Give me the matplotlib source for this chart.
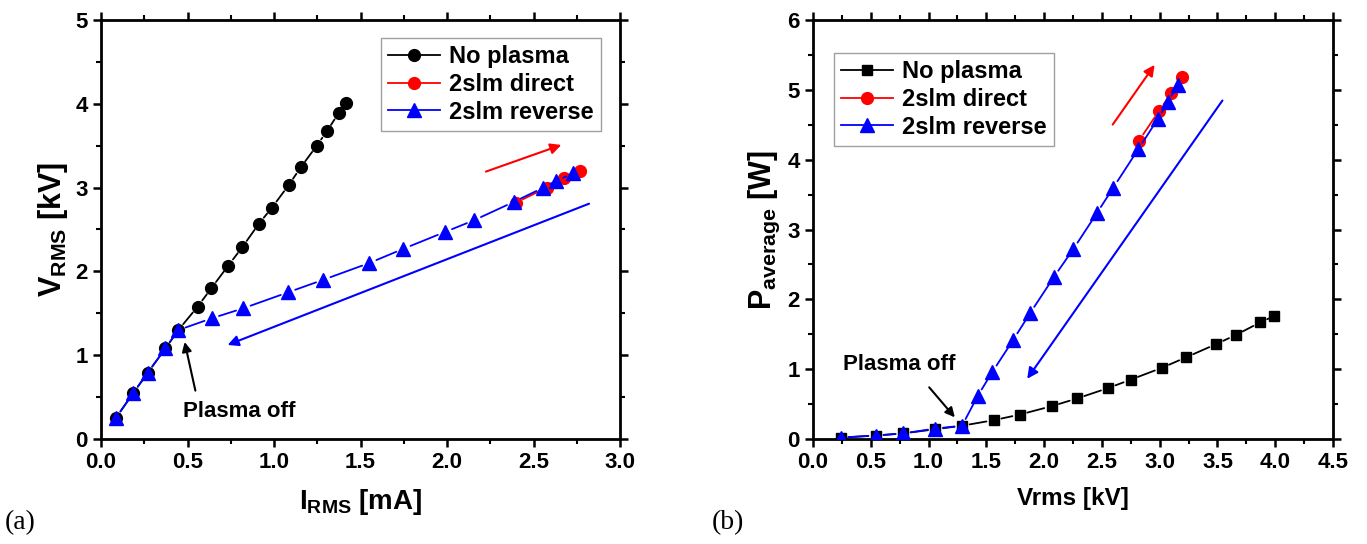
import matplotlib
matplotlib.use("Agg")
import matplotlib.pyplot as plt
from matplotlib.ticker import MultipleLocator
from matplotlib.lines import Line2D

plt.rcParams['font.family'] = ['Liberation Sans', 'DejaVu Sans']
plt.rcParams['font.weight'] = 'bold'
plt.rcParams['mathtext.fontset'] = 'custom'
plt.rcParams['mathtext.rm'] = 'Liberation Sans:bold'
plt.rcParams['mathtext.it'] = 'Liberation Sans:bold'
plt.rcParams['mathtext.bf'] = 'Liberation Sans:bold'

# (a) V_RMS vs I_RMS
i_noplasma = [0.087, 0.187, 0.27, 0.372, 0.447, 0.559, 0.638, 0.736, 0.817, 0.913,
              0.988, 1.085, 1.154, 1.247, 1.305, 1.374, 1.416]
v_noplasma = [0.254, 0.55, 0.79, 1.08, 1.30, 1.58, 1.80, 2.07, 2.29, 2.57,
              2.76, 3.03, 3.24, 3.50, 3.67, 3.89, 4.01]

i_reverse = [0.087, 0.187, 0.27, 0.372, 0.447, 0.64, 0.823, 1.081, 1.285, 1.551,
             1.748, 1.988, 2.156, 2.387, 2.557, 2.63, 2.73]
v_reverse = [0.254, 0.55, 0.79, 1.08, 1.30, 1.44, 1.56, 1.75, 1.90, 2.10,
             2.27, 2.47, 2.61, 2.83, 3.00, 3.08, 3.17]

i_direct = [2.399, 2.576, 2.676, 2.769]
v_direct = [2.82, 3.00, 3.12, 3.20]

# (b) P_average vs Vrms
vb_noplasma = [0.24, 0.545, 0.78, 1.06, 1.29, 1.566, 1.79, 2.065, 2.285, 2.555,
               2.75, 3.02, 3.23, 3.49, 3.66, 3.87, 3.99]
p_noplasma = [0.02, 0.05, 0.08, 0.14, 0.19, 0.27, 0.35, 0.47, 0.58, 0.73,
              0.85, 1.02, 1.17, 1.36, 1.49, 1.67, 1.76]

vb_reverse = [0.24, 0.545, 0.78, 1.06, 1.29, 1.425, 1.552, 1.733, 1.878, 2.085,
              2.253, 2.455, 2.599, 2.815, 2.983, 3.07, 3.156]
p_reverse = [0.02, 0.05, 0.08, 0.15, 0.19, 0.616, 0.96, 1.42, 1.80, 2.32,
             2.72, 3.23, 3.60, 4.15, 4.58, 4.82, 5.07]

vb_direct = [2.82, 2.995, 3.10, 3.19]
p_direct = [4.27, 4.70, 4.95, 5.19]

labels = ["No plasma", "2slm direct", "2slm reverse"]
colors = ['black', 'red', 'blue']

fig = plt.figure(figsize=(13.67, 5.44), dpi=100)
ax1 = fig.add_axes([101/1367, 1-439/544, 519/1367, 419/544])
ax2 = fig.add_axes([813/1367, 1-439/544, 520/1367, 419/544])

lw = 1.3


def origin_line(ax, x, y, color, marker, ms, z):
    # markers, then line pieces that stop short of each marker (Origin style gaps)
    ax.plot(x, y, linestyle='none', marker=marker, ms=ms, color=color, zorder=z)
    for k in range(len(x) - 1):
        ax.annotate('', xy=(x[k+1], y[k+1]), xytext=(x[k], y[k]),
                    arrowprops=dict(arrowstyle='-', color=color, lw=lw,
                                    shrinkA=5.5, shrinkB=5.5),
                    zorder=z, annotation_clip=False)


origin_line(ax1, i_noplasma, v_noplasma, 'black', 'o', 8.5, 3)
origin_line(ax1, i_direct, v_direct, 'red', 'o', 8.5, 4)
origin_line(ax1, i_reverse, v_reverse, 'blue', '^', 9.5, 5)

origin_line(ax2, vb_noplasma, p_noplasma, 'black', 's', 7.5, 3)
origin_line(ax2, vb_direct, p_direct, 'red', 'o', 8.5, 4)
origin_line(ax2, vb_reverse, p_reverse, 'blue', '^', 9.5, 5)

# direction arrows
arr = dict(arrowstyle='-|>', lw=1.5, mutation_scale=16)
ax1.annotate('', xy=(2.676, 3.52), xytext=(2.21, 3.18), arrowprops=dict(color='red', **arr))
ax1.annotate('', xy=(0.717, 1.11), xytext=(2.836, 2.82), arrowprops=dict(color='blue', **arr))
ax1.annotate('', xy=(0.48, 1.19), xytext=(0.549, 0.545),
             arrowprops=dict(color='black', arrowstyle='-|>', lw=1.5, mutation_scale=14))
ax1.text(0.80, 0.33, 'Plasma off', ha='center', va='center', fontsize=16, fontweight='bold')

ax2.annotate('', xy=(2.97, 5.39), xytext=(2.58, 4.47), arrowprops=dict(color='red', **arr))
ax2.annotate('', xy=(1.84, 0.83), xytext=(3.557, 4.88), arrowprops=dict(color='blue', **arr))
ax2.annotate('', xy=(1.243, 0.28), xytext=(0.99, 0.77),
             arrowprops=dict(color='black', arrowstyle='-|>', lw=1.5, mutation_scale=14))
ax2.text(0.747, 1.07, 'Plasma off', ha='center', va='center', fontsize=16, fontweight='bold')

ax1.set_xlim(0, 3.0)
ax1.set_ylim(0, 5)
ax1.xaxis.set_major_locator(MultipleLocator(0.5))
ax1.xaxis.set_minor_locator(MultipleLocator(0.25))
ax1.yaxis.set_major_locator(MultipleLocator(1))
ax1.yaxis.set_minor_locator(MultipleLocator(0.5))
ax1.xaxis.set_major_formatter(plt.FormatStrFormatter('%.1f'))
ax1.set_xlabel(r'$\mathregular{I_{RMS}}$ [mA]', fontsize=20, fontweight='bold', labelpad=10)
ax1.set_ylabel(r'$\mathregular{V_{RMS}}$ [kV]', fontsize=22, fontweight='bold', labelpad=4)

ax2.set_xlim(0, 4.5)
ax2.set_ylim(0, 6)
ax2.xaxis.set_major_locator(MultipleLocator(0.5))
ax2.xaxis.set_minor_locator(MultipleLocator(0.25))
ax2.yaxis.set_major_locator(MultipleLocator(1))
ax2.yaxis.set_minor_locator(MultipleLocator(0.5))
ax2.xaxis.set_major_formatter(plt.FormatStrFormatter('%.1f'))
ax2.set_xlabel('Vrms [kV]', fontsize=17.5, fontweight='bold', labelpad=10)
ax2.set_ylabel(r'$\mathregular{P_{average}}$ [W]', fontsize=22, fontweight='bold', labelpad=4)

for ax in (ax1, ax2):
    for sp in ax.spines.values():
        sp.set_linewidth(2)
    ax.tick_params(which='both', direction='out', top=True, right=True,
                   labeltop=False, labelright=False)
    ax.tick_params(which='major', length=6, width=1.8, labelsize=16)
    ax.tick_params(which='minor', length=3.5, width=1.5)
    for t in ax.get_xticklabels() + ax.get_yticklabels():
        t.set_fontweight('bold')

handles1 = [Line2D([], [], color='black', marker='o', ms=8.5, lw=lw),
            Line2D([], [], color='red', marker='o', ms=8.5, lw=lw),
            Line2D([], [], color='blue', marker='^', ms=9.5, lw=lw)]
handles2 = [Line2D([], [], color='black', marker='s', ms=7.5, lw=lw),
            Line2D([], [], color='red', marker='o', ms=8.5, lw=lw),
            Line2D([], [], color='blue', marker='^', ms=9.5, lw=lw)]

leg_kw = dict(fontsize=17, frameon=True, fancybox=False, edgecolor='#888888',
              handlelength=2.2, borderpad=0.3, labelspacing=0.2, handletextpad=0.4,
              borderaxespad=0)
l1 = ax1.legend(handles1, labels, loc='upper right',
                bbox_to_anchor=(1 - 19/519, 1 - 18/419), **leg_kw)
l2 = ax2.legend(handles2, labels, loc='upper left',
                bbox_to_anchor=(21/520, 1 - 33/419), **leg_kw)
for l in (l1, l2):
    l.get_frame().set_linewidth(1.0)
    for t in l.get_texts():
        t.set_fontweight('bold')

fig.text(5/1367, 1-523/544, '(a)', fontsize=20, family='Liberation Serif',
         fontweight='normal', va='center')
fig.text(712/1367, 1-523/544, '(b)', fontsize=20, family='Liberation Serif',
         fontweight='normal', va='center')

fig.savefig('out.png', dpi=100)
